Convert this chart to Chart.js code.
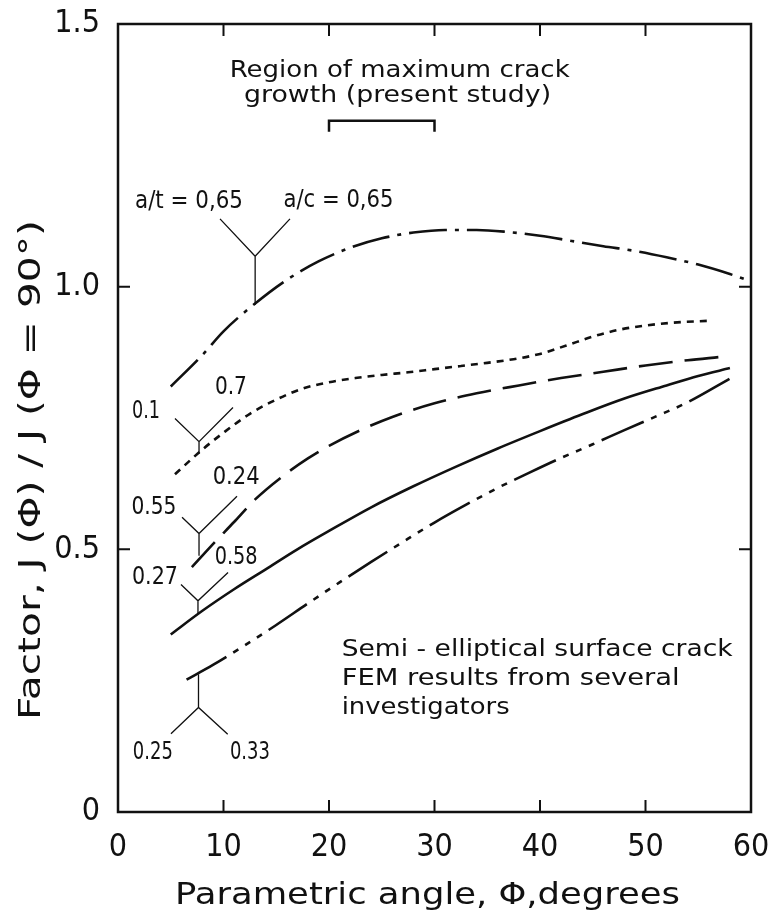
<!DOCTYPE html>
<html>
<head>
<meta charset="utf-8">
<script src="https://cdn.jsdelivr.net/npm/chart.js@4.4.1/dist/chart.umd.min.js"></script>
<style>
  html, body { margin: 0; background: #fff; }
  #wrap { width: 769px; height: 917px; }
</style>
</head>
<body>
<div id="wrap"><canvas id="chart"></canvas></div>
<script>
// curve a/t = 0,65  a/c = 0,65 (long dash - dot)
const angleA = [5, 8, 10, 13, 16, 19, 22, 25, 28, 31, 34, 37, 40, 43, 46, 49, 52, 55, 58, 60];
const factorA = [0.81, 0.87, 0.915, 0.968, 1.013, 1.048, 1.074, 1.092, 1.103, 1.108, 1.108, 1.104, 1.097, 1.087, 1.077, 1.068, 1.056, 1.042, 1.024, 1.01];

// curve 0.1 / 0.7 (short dashes)
const angleB = [5.4, 8, 10, 12.5, 15, 17.5, 20, 22.5, 25, 27.5, 30, 32.5, 35, 37.5, 40, 42.5, 45, 47.5, 50, 53, 56];
const factorB = [0.643, 0.69, 0.722, 0.758, 0.785, 0.806, 0.818, 0.826, 0.832, 0.837, 0.843, 0.849, 0.855, 0.862, 0.872, 0.888, 0.905, 0.918, 0.926, 0.932, 0.935];

// curve 0.55 / 0.24 (long dashes)
const angleC = [7, 9, 11, 13, 15.6, 18, 20, 23, 26, 30, 34, 38, 42, 46, 50, 54, 57];
const factorC = [0.466, 0.51, 0.552, 0.595, 0.639, 0.673, 0.697, 0.727, 0.752, 0.778, 0.797, 0.812, 0.826, 0.838, 0.85, 0.86, 0.866];

// curve 0.27 / 0.58 (solid)
const angleD = [5, 8, 11, 14, 17, 20, 24, 28, 32, 36, 40, 44, 48, 52, 55, 58];
const factorD = [0.338, 0.383, 0.424, 0.462, 0.5, 0.535, 0.58, 0.62, 0.657, 0.692, 0.725, 0.757, 0.787, 0.812, 0.83, 0.845];

// curve 0.25 / 0.33 (dash - dot - dot)
const angleE = [6.5, 9, 12, 15, 18, 21, 24, 27, 30, 33, 36, 39, 42, 45, 48, 51, 54, 58];
const factorE = [0.252, 0.28, 0.317, 0.356, 0.397, 0.437, 0.476, 0.514, 0.551, 0.585, 0.617, 0.646, 0.674, 0.70, 0.727, 0.753, 0.78, 0.825];

const xTicks = [0, 10, 20, 30, 40, 50, 60];
const yTicks = [0, 0.5, 1.0, 1.5];

const pts = (xs, ys) => xs.map((x, i) => ({ x: x, y: ys[i] }));

// leader lines "Y" shapes: [arm1 end, arm2 end, junction, stem end] in data units
const leaders = [
  [[9.67, 1.129], [16.3, 1.129], [13.0, 1.058], [13.0, 0.965]],
  [[5.4, 0.749], [10.9, 0.770], [7.68, 0.705], [7.68, 0.682]],
  [[6.07, 0.561], [11.28, 0.601], [7.68, 0.530], [7.68, 0.488]],
  [[5.97, 0.433], [10.43, 0.456], [7.58, 0.402], [7.58, 0.379]],
  [[5.02, 0.149], [10.4, 0.148], [7.63, 0.199], [7.63, 0.262]]
];

// small labels: text, centre x, centre y (data units), width px
const labels = [
  ['a/t = 0,65', 6.73, 1.161, 108],
  ['a/c = 0,65', 20.9, 1.163, 110],
  ['0.1', 2.65, 0.761, 28],
  ['0.7', 10.7, 0.808, 32],
  ['0.55', 3.41, 0.58, 45],
  ['0.24', 11.2, 0.637, 47],
  ['0.27', 3.5, 0.446, 46],
  ['0.58', 11.2, 0.484, 43],
  ['0.25', 3.3, 0.112, 40],
  ['0.33', 12.5, 0.112, 40]
];

const fontTick = '"Liberation Sans Narrow", "DejaVu Sans Condensed", sans-serif';
const fontNote = '"DejaVu Sans", sans-serif';

function fitText(ctx, text, x, y, w, align) {
  ctx.save();
  ctx.textAlign = 'left';
  const m = ctx.measureText(text).width;
  const s = w / m;
  ctx.translate(x, y);
  ctx.scale(s, 1);
  const off = align === 'center' ? -m / 2 : 0;
  ctx.fillText(text, off, 0);
  ctx.restore();
}

const decor = {
  id: 'decor',
  afterDraw(chart) {
    const ctx = chart.ctx;
    const xs = chart.scales.x, ys = chart.scales.y;
    const a = chart.chartArea;
    const X = v => xs.getPixelForValue(v);
    const Y = v => ys.getPixelForValue(v);
    ctx.save();
    ctx.strokeStyle = '#111';
    ctx.fillStyle = '#111';
    ctx.lineCap = 'square';

    // frame
    ctx.lineWidth = 2.5;
    ctx.strokeRect(a.left, a.top, a.right - a.left, a.bottom - a.top);

    // inward ticks
    ctx.lineWidth = 2;
    ctx.beginPath();
    xTicks.slice(1, -1).forEach(t => {
      ctx.moveTo(X(t), a.bottom); ctx.lineTo(X(t), a.bottom - 11);
      ctx.moveTo(X(t), a.top); ctx.lineTo(X(t), a.top + 11);
    });
    yTicks.slice(1, -1).forEach(t => {
      ctx.moveTo(a.left, Y(t)); ctx.lineTo(a.left + 11, Y(t));
      ctx.moveTo(a.right, Y(t)); ctx.lineTo(a.right - 11, Y(t));
    });
    ctx.stroke();

    // bracket for region of maximum crack growth
    ctx.lineWidth = 2.5;
    ctx.lineCap = 'butt';
    ctx.beginPath();
    ctx.moveTo(X(20), Y(1.295));
    ctx.lineTo(X(20), Y(1.316));
    ctx.lineTo(X(30), Y(1.316));
    ctx.lineTo(X(30), Y(1.295));
    ctx.stroke();

    // leader lines
    ctx.lineWidth = 1.3;
    ctx.beginPath();
    leaders.forEach(l => {
      const [p1, p2, j, s] = l;
      ctx.moveTo(X(p1[0]), Y(p1[1])); ctx.lineTo(X(j[0]), Y(j[1]));
      ctx.lineTo(X(p2[0]), Y(p2[1]));
      ctx.moveTo(X(j[0]), Y(j[1])); ctx.lineTo(X(s[0]), Y(s[1]));
    });
    ctx.stroke();

    // labels
    ctx.textBaseline = 'middle';
    ctx.font = '24px ' + fontNote;
    labels.forEach(l => fitText(ctx, l[0], X(l[1]), Y(l[2]), l[3], 'center'));

    ctx.font = '23px ' + fontNote;
    fitText(ctx, 'Region of maximum crack', X(26.7), Y(1.411), 340, 'center');
    fitText(ctx, 'growth (present study)', X(26.5), Y(1.363), 307, 'center');

    fitText(ctx, 'Semi - elliptical surface crack', X(21.2), Y(0.309), 391, 'left');
    fitText(ctx, 'FEM results from several', X(21.2), Y(0.254), 338, 'left');
    fitText(ctx, 'investigators', X(21.2), Y(0.198), 168, 'left');

    // axis titles
    ctx.font = '30px ' + fontNote;
    fitText(ctx, 'Parametric angle, \u03A6,degrees', (a.left + a.right) / 2 - 7, a.bottom + 84, 505, 'center');
    ctx.save();
    ctx.translate(32, 470);
    ctx.rotate(-Math.PI / 2);
    fitText(ctx, 'Factor, J (\u03A6) / J (\u03A6 = 90\u00B0)', 0, 0, 500, 'center');
    ctx.restore();

    ctx.restore();
  }
};

const line = (xs, ys, dash) => ({
  data: pts(xs, ys),
  borderColor: '#111',
  borderWidth: 2.6,
  borderDash: dash,
  pointRadius: 0,
  fill: false,
  cubicInterpolationMode: 'monotone'
});

new Chart(document.getElementById('chart'), {
  type: 'line',
  data: {
    datasets: [
      line(angleA, factorA, [38, 8, 4, 8]),
      line(angleB, factorB, [7, 6]),
      line(angleC, factorC, [34, 12]),
      line(angleD, factorD, []),
      line(angleE, factorE, [46, 8, 6, 8, 6, 8, 6, 8])
    ]
  },
  options: {
    responsive: true,
    maintainAspectRatio: false,
    animation: false,
    devicePixelRatio: 1,
    layout: { padding: { left: 0, right: 18, top: 24, bottom: 0 } },
    plugins: { legend: { display: false }, tooltip: { enabled: false } },
    scales: {
      x: {
        type: 'linear',
        min: 0, max: 60,
        afterFit: s => { s.height = 105; s.paddingLeft = 0; s.paddingRight = 0; },
        afterBuildTicks: s => { s.ticks = xTicks.map(v => ({ value: v })); },
        grid: { display: false },
        border: { display: false },
        ticks: { color: '#111', padding: 8, maxRotation: 0, font: { family: fontTick, size: 32 } }
      },
      y: {
        type: 'linear',
        min: 0, max: 1.5,
        afterFit: s => { s.width = 118; s.paddingTop = 0; s.paddingBottom = 0; },
        afterBuildTicks: s => { s.ticks = yTicks.map(v => ({ value: v })); },
        grid: { display: false },
        border: { display: false },
        ticks: {
          color: '#111', padding: 10,
          font: { family: fontTick, size: 32 },
          callback: v => v === 0 ? '0' : v.toFixed(1)
        }
      }
    }
  },
  plugins: [decor]
});
</script>
</body>
</html>
